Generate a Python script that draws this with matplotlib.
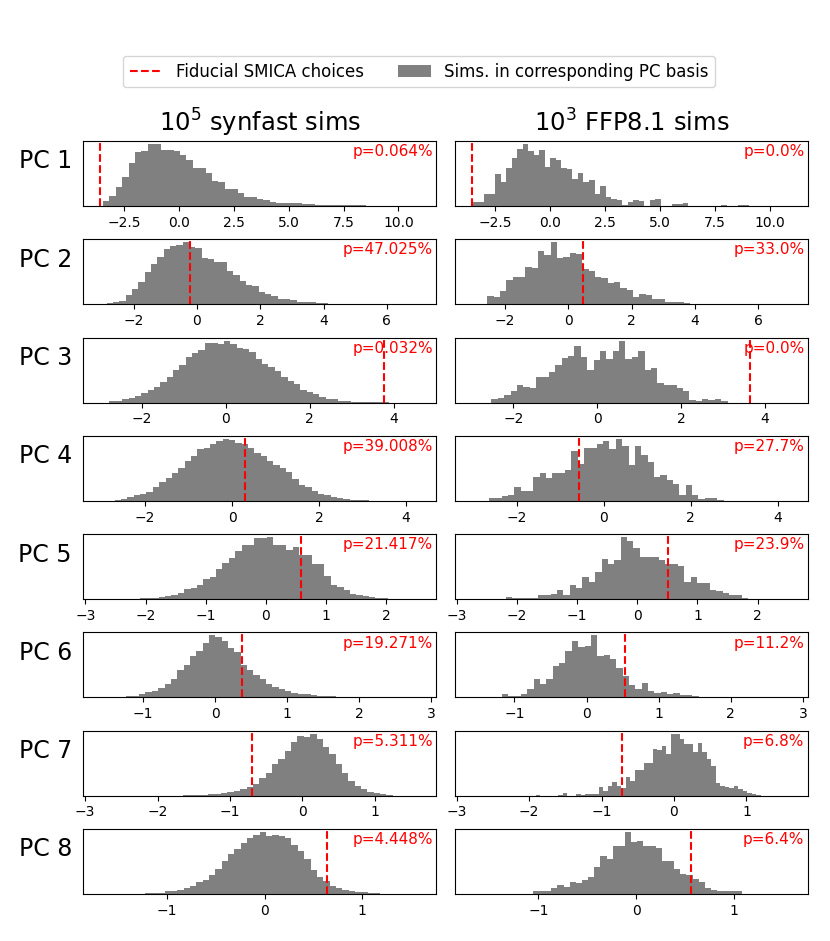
"""
PC-basis histograms: synfast vs FFP8.1 sims with the fiducial SMICA values
"""

import numpy as np
import matplotlib.pyplot as plt
from matplotlib.lines import Line2D
from matplotlib.patches import Patch
from matplotlib.ticker import MaxNLocator

# bar heights (relative, peak = 100)
syn_pc1 = [8, 16, 30, 47, 69, 87, 89, 100, 100, 91, 91, 88, 82, 75, 62, 61, 54, 41, 39, 27, 27, 21, 15, 14, 11,
           9, 7, 4, 4, 5, 4, 3, 3, 2, 2, 2, 1.5, 1.2, 1, 1, 0.8, 0.6, 0.5, 0.4, 0.3, 0.3, 0.2, 0.2, 0.1]
syn_pc2 = [2, 3, 6, 15, 25, 36, 52, 65, 77, 90, 94, 95, 100, 93, 91, 74, 73, 68, 68, 53, 47, 37, 31, 30, 20,
           16, 14, 9, 9, 7, 4, 3, 3, 2, 2, 1, 1, 0.8, 0.6, 0.5, 0.4, 0.3, 0.3, 0.2, 0.2, 0.1, 0.1, 0.1, 0.1]
syn_pc3 = [2, 3, 5, 7, 11, 15, 20, 25, 33, 41, 52, 60, 73, 80, 85, 96, 96, 95, 100, 94, 88, 87, 81, 70, 63,
           58, 51, 42, 35, 30, 20, 17, 13, 9, 5, 5, 3, 2, 1, 1, 0.5, 0.4, 0.3, 0.2]
syn_pc4 = [1, 3, 6, 9, 11, 15, 23, 30, 37, 45, 53, 64, 73, 83, 86, 92, 96, 100, 98, 93, 91, 85, 77, 72, 65,
           58, 53, 46, 36, 25, 22, 16, 11, 9, 6, 4, 3, 2, 1.5, 1, 0.5, 0.3]
syn_pc5 = [0.3, 0.5, 1, 2, 2.5, 3, 5, 7, 10, 16, 18, 22, 33, 35, 48, 59, 67, 77, 87, 88, 98, 99, 100, 88, 87,
           79, 84, 72, 71, 57, 56, 37, 22, 19, 14, 9, 6, 5, 3, 2, 1, 0.5, 0.3]
syn_pc6 = [0.3, 0.5, 0.5, 1, 2, 3, 5, 8, 11, 15, 21, 30, 44, 53, 67, 75, 88, 100, 98, 91, 80, 73, 52, 45, 36,
           29, 21, 16, 13, 11, 7, 6, 5, 4, 3, 2, 2, 1, 1, 0.8, 0.6, 0.5, 0.4, 0.3, 0.3, 0.2, 0.2, 0.1, 0.1]
syn_pc7 = [0.3, 0.5, 0.7, 1, 2, 3, 4, 6, 7, 11, 14, 19, 29, 37, 51, 59, 72, 86, 96, 95, 100, 91, 78, 67, 51,
           37, 24, 16, 11, 6, 4, 2, 1]
syn_pc8 = [0.3, 0.5, 1, 1.5, 2, 4, 5, 7, 10, 13, 19, 22, 31, 40, 53, 65, 73, 83, 90, 96, 100, 93, 95, 93, 90,
           79, 69, 57, 39, 28, 21, 13, 9, 6, 5, 3, 2.5, 1.5, 1, 0.5]

ffp_pc1 = [7, 6, 20, 19, 51, 39, 61, 78, 92, 100, 89, 82, 91, 63, 77, 74, 62, 60, 43, 54, 39, 42, 19, 32, 14,
           11, 9, 1.7, 7, 10, 8, 0, 9, 12, 0, 0, 3, 3, 4, 0, 0, 0, 0, 0, 0, 1.7, 0, 0, 1.7, 1.7]
ffp_pc2 = [1, 1, 13, 12, 21, 39, 44, 44, 60, 58, 86, 80, 100, 75, 76, 82, 81, 57, 54, 44, 43, 35, 36, 27, 23,
           12, 17, 15, 9, 9, 4, 3, 3, 2, 1, 1, 1, 0, 1, 0, 1]
ffp_pc3 = [5, 8, 12, 18, 29, 25, 23, 41, 41, 50, 60, 72, 75, 91, 73, 52, 68, 84, 71, 84, 100, 71, 73, 84, 52,
           56, 31, 29, 28, 24, 19, 4, 2, 5, 4, 5, 3]
ffp_pc4 = [4, 5, 7, 9, 23, 16, 16, 39, 45, 37, 45, 45, 50, 80, 59, 85, 85, 91, 96, 84, 100, 88, 58, 88, 74,
           62, 39, 42, 34, 27, 10, 26, 9, 3, 4, 4, 1]
ffp_pc5 = [4, 1, 2, 2, 2, 7, 6, 9, 14, 7, 22, 18, 35, 27, 44, 65, 57, 63, 100, 94, 83, 68, 68, 68, 63, 57, 57,
           54, 27, 35, 26, 26, 14, 13, 10, 7, 6, 2]
ffp_pc6 = [1, 0, 0, 0, 0, 0, 5, 2, 3, 5, 13, 29, 21, 29, 50, 56, 75, 91, 81, 83, 100, 67, 68, 62, 48, 35, 20,
           13, 23, 11, 7, 8, 6, 7, 4, 4, 2]
ffp_pc7 = [1.7, 0, 0, 0, 0, 1.7, 4.3, 0, 0, 2.7, 1.6, 3.2, 3.2, 3.2, 13.4, 7.5, 15, 22.6, 15, 12.4, 30.6, 23,
           42, 42, 53, 53, 75, 73, 80, 68, 100, 100, 92, 84, 84, 70, 85, 70, 60, 48, 20, 16, 14, 13, 16, 10,
           8, 4, 2, 1]
ffp_pc8 = [4, 4, 5, 9, 14, 12, 20, 17, 22, 28, 43, 62, 57, 78, 78, 100, 84, 85, 78, 78, 75, 54, 54, 41, 32,
           30, 24, 19, 9, 6, 4, 4, 5, 5]

# first bin edge and bin width of each histogram
syn_start = [-3.45, -2.85, -2.77, -2.70, -2.31, -1.58, -1.65, -1.35]
syn_width = [0.292, 0.2, 0.1515, 0.146, 0.106, 0.088, 0.0878, 0.065]
ffp_start = [-3.51, -2.96, -2.52, -2.64, -2.185, -1.70, -1.91, -1.057]
ffp_width = [0.251, 0.2, 0.152, 0.146, 0.106, 0.088, 0.0622, 0.0629]

# fiducial SMICA values and p-values
syn_fid = [-3.60, -0.22, 3.76, 0.29, 0.58, 0.38, -0.70, 0.64]
ffp_fid = [-3.57, 0.45, 3.65, -0.564, 0.51, 0.53, -0.72, 0.56]
syn_p = ['0.064', '47.025', '0.032', '39.008', '21.417', '19.271', '5.311', '4.448']
ffp_p = ['0.0', '33.0', '0.0', '27.7', '23.9', '11.2', '6.8', '6.4']

row_xlim = [(-4.36, 11.73), (-3.6, 7.57), (-3.4, 5.02), (-3.43, 4.70),
            (-3.04, 2.84), (-1.83, 3.07), (-3.03, 1.85), (-1.86, 1.76)]

syn_all = [syn_pc1, syn_pc2, syn_pc3, syn_pc4, syn_pc5, syn_pc6, syn_pc7, syn_pc8]
ffp_all = [ffp_pc1, ffp_pc2, ffp_pc3, ffp_pc4, ffp_pc5, ffp_pc6, ffp_pc7, ffp_pc8]


def draw_hist(ax, heights, start, width, fid, ptxt):
    heights = np.asarray(heights, dtype=float)
    edges = start + width * np.arange(len(heights) + 1)
    ax.hist(edges[:-1], bins=edges, weights=heights, color='gray')
    ax.axvline(fid, color='red', linestyle='--', linewidth=1.5)
    ax.text(0.99, 0.95, f'p={ptxt}%', color='red', fontsize=11,
            ha='right', va='top', transform=ax.transAxes)
    ax.set_yticks([])


fig, axes = plt.subplots(8, 2, figsize=(8.3, 9.41), dpi=100)
fig.subplots_adjust(left=0.1, right=0.9735, top=0.8502, bottom=0.05, wspace=0.051, hspace=0.512)

for i in range(8):
    ax_l, ax_r = axes[i]
    draw_hist(ax_l, syn_all[i], syn_start[i], syn_width[i], syn_fid[i], syn_p[i])
    draw_hist(ax_r, ffp_all[i], ffp_start[i], ffp_width[i], ffp_fid[i], ffp_p[i])
    for ax in (ax_l, ax_r):
        ax.set_xlim(*row_xlim[i])
        ax.xaxis.set_major_locator(MaxNLocator(nbins=7, steps=[1, 2, 2.5, 5, 10]))
        ax.tick_params(axis='x', labelsize=10)
    ax_l.set_ylabel(f'PC {i + 1}', rotation=0, fontsize=17, ha='right', labelpad=8)

axes[0, 0].set_title(r'$10^5$ synfast sims', fontsize=17.5, pad=7)
axes[0, 1].set_title(r'$10^3$ FFP8.1 sims', fontsize=17.5, pad=7)

handles = [Line2D([0], [0], color='red', linestyle='--', linewidth=1.5),
           Patch(facecolor='gray')]
fig.legend(handles, ['Fiducial SMICA choices', 'Sims. in corresponding PC basis'],
           loc='center', bbox_to_anchor=(0.505, 0.924), ncol=2, fontsize=12)

plt.savefig('out.png', dpi=100)
